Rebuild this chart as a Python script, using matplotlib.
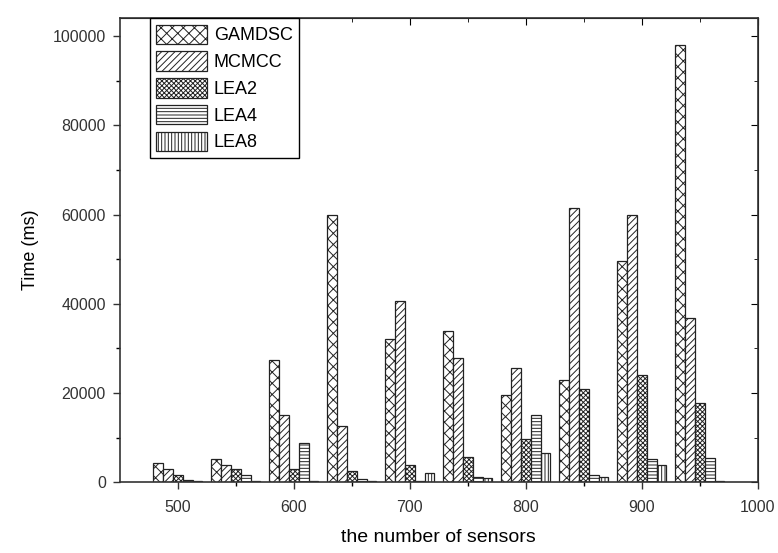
import numpy as np
import matplotlib
matplotlib.use("Agg")
import matplotlib.pyplot as plt

plt.rcParams["font.family"] = ["Liberation Sans", "DejaVu Sans"]
plt.rcParams["hatch.linewidth"] = 0.7

sensors = [500, 550, 600, 650, 700, 750, 800, 850, 900, 950]
names = ["GAMDSC", "MCMCC", "LEA2", "LEA4", "LEA8"]
gamdsc = [4400, 5100, 27500, 59800, 32000, 34000, 19500, 23000, 49500, 98000]
mcmcc = [3000, 3900, 15000, 12500, 40600, 27800, 25500, 61500, 60000, 36800]
lea2 = [1700, 2900, 2900, 2500, 3800, 5700, 9700, 21000, 24000, 17700]
lea4 = [400, 1700, 8800, 700, 300, 1100, 15000, 1700, 5100, 5400]
lea8 = [200, 300, 300, 300, 2100, 850, 6500, 1200, 3900, 300]
series = [gamdsc, mcmcc, lea2, lea4, lea8]
hatches = ["xxx", "/////", "xxxxxxx", "-----", "|||||"]

fig = plt.figure(figsize=(7.78, 5.53), dpi=100)
ax = fig.add_axes([0.154, 0.128, 0.82, 0.839])

w = 8.5
x = np.array(sensors)
for i, (vals, name) in enumerate(zip(series, names)):
    ax.bar(x + (i - 2) * w, vals, width=w, color="white", edgecolor="#222222",
           hatch=hatches[i], linewidth=0.9, label=name)

ax.set_xlim(450, 1000)
ax.set_ylim(0, 104000)
ax.set_xticks([500, 600, 700, 800, 900, 1000])
ax.set_xticks([550, 650, 750, 850, 950], minor=True)
ax.set_yticks(range(0, 100001, 20000))
ax.set_yticks(range(10000, 100001, 20000), minor=True)
ax.tick_params(direction="out", length=5, width=1, labelsize=11.5,
               colors="#333333", pad=5)
ax.tick_params(axis="x", pad=8)
ax.tick_params(which="minor", direction="out", length=3, width=1)
for s in ax.spines.values():
    s.set_linewidth(1.2)
    s.set_color("#333333")

top = ax.secondary_xaxis("top")
top.set_xticks([500, 600, 700, 800, 900, 1000])
top.set_xticks([550, 650, 750, 850, 950], minor=True)
top.tick_params(direction="in", length=5, labeltop=False)
top.tick_params(which="minor", direction="in", length=3)
right = ax.secondary_yaxis("right")
right.set_yticks(range(0, 100001, 20000))
right.set_yticks(range(10000, 100001, 20000), minor=True)
right.tick_params(direction="in", length=5, labelright=False)
right.tick_params(which="minor", direction="in", length=3)

ax.set_xlabel("the number of sensors", fontsize=14, labelpad=10)
ax.set_ylabel("Time (ms)", fontsize=13, labelpad=10)

leg = ax.legend(loc="upper left", bbox_to_anchor=(0.047, 1.0), fontsize=13,
                fancybox=False, edgecolor="black", framealpha=1,
                handlelength=2.8, handleheight=1.3, labelspacing=0.38,
                borderpad=0.35, handletextpad=0.4, borderaxespad=0)
leg.get_frame().set_linewidth(1.0)

fig.savefig("out.png", dpi=100)
